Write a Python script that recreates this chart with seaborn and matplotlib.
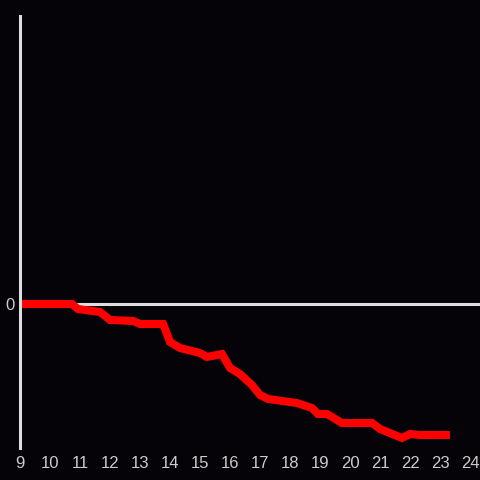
import matplotlib
matplotlib.use("Agg")
import matplotlib.pyplot as plt
import seaborn as sns
import pandas as pd

# hour of day vs cumulative value
hours = [9.0, 10.73, 10.93, 11.67, 12.0, 12.77, 13.0, 13.77, 14.0, 14.33,
         15.0, 15.23, 15.73, 16.0, 16.33, 16.73, 17.0, 17.27, 18.23, 18.73,
         18.93, 19.23, 19.73, 20.73, 21.0, 21.73, 22.0, 22.33, 23.33]
values = [0.0, 0.0, -0.5, -0.8, -1.6, -1.7, -2.0, -2.0, -3.8, -4.4,
          -4.9, -5.3, -5.0, -6.4, -7.0, -8.1, -9.1, -9.5, -9.9, -10.4,
          -11.0, -11.0, -11.9, -11.9, -12.5, -13.4, -13.0, -13.1, -13.1]
x_ticks = list(range(9, 25))
y_ticks = [0]

bg = "#050307"
fg = "#dddddd"

sns.set_style("dark")
plt.rcParams["font.family"] = ["Liberation Sans", "DejaVu Sans"]
df = pd.DataFrame({"hour": hours, "value": values})

fig = plt.figure(figsize=(4.8, 4.8), dpi=100, facecolor=bg)
ax = fig.add_axes([20 / 480, 32 / 480, 460 / 480, 432 / 480])
ax.set_facecolor(bg)

ax.axhline(0, color=fg, lw=2.2, zorder=1)
sns.lineplot(data=df, x="hour", y="value", ax=ax, color="#ff0000",
             lw=5.8, zorder=2)
for l in ax.lines:
    l.set_solid_capstyle("butt")
    l.set_solid_joinstyle("miter")

ax.set_xlim(9, 24.33)
ax.set_ylim(-14.4, 28.8)
ax.set_xticks(x_ticks)
ax.set_yticks(y_ticks)
ax.set_xlabel("")
ax.set_ylabel("")
ax.grid(False)
for s in ["top", "right", "bottom"]:
    ax.spines[s].set_visible(False)
ax.spines["left"].set_color(fg)
ax.spines["left"].set_linewidth(2.2)
ax.spines["left"].set_zorder(3)
ax.tick_params(length=0, colors="#cccccc", labelsize=12)
ax.tick_params(axis="x", pad=6)
ax.tick_params(axis="y", pad=4)

fig.savefig("out.png", dpi=100, facecolor=bg)
